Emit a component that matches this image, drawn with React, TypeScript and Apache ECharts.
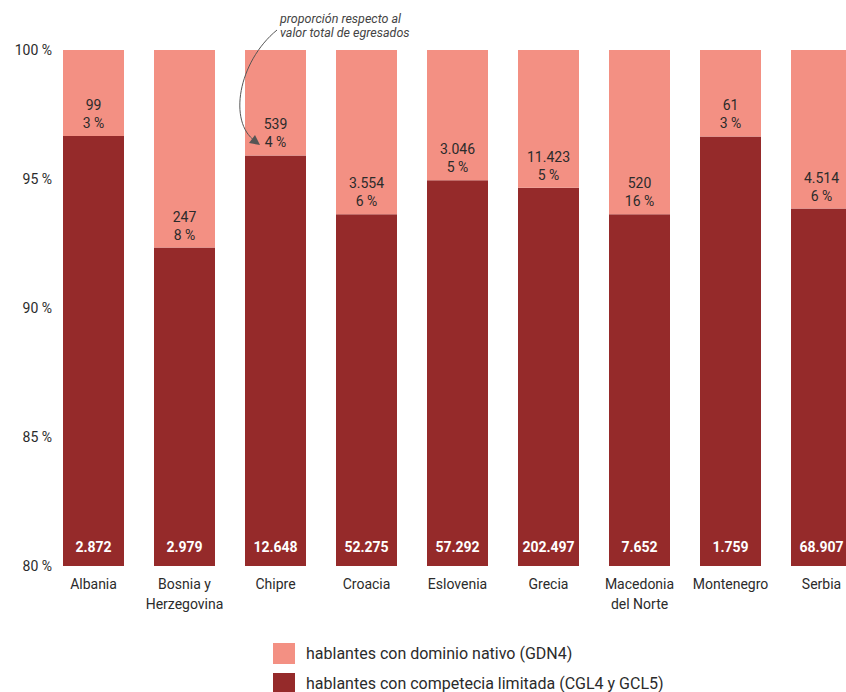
import React, { useEffect, useRef } from "react";
import * as echarts from "echarts";

const categories = [
  "Albania",
  "Bosnia y\nHerzegovina",
  "Chipre",
  "Croacia",
  "Eslovenia",
  "Grecia",
  "Macedonia\ndel Norte",
  "Montenegro",
  "Serbia",
];
// hablantes con competecia limitada (CGL4 y GCL5)
const limitedCounts = [2872, 2979, 12648, 52275, 57292, 202497, 7652, 1759, 68907];
// hablantes con dominio nativo (GDN4)
const nativeCounts = [99, 247, 539, 3554, 3046, 11423, 520, 61, 4514];
// printed share labels of native speakers
const nativeShareLabels = ["3 %", "8 %", "4 %", "6 %", "5 %", "5 %", "16 %", "3 %", "6 %"];

const AXIS_MIN = 80;
const AXIS_MAX = 100;

const DARK = "#952a2a";
const PINK = "#f39083";
const FONT = "Roboto, 'Noto Sans', sans-serif";

const fmt = (n: number) => String(n).replace(/\B(?=(\d{3})+(?!\d))/g, ".");

export default function App() {
  const ref = useRef<HTMLDivElement>(null);
  useEffect(() => {
    if (!ref.current) return;
    const chart = echarts.init(ref.current, undefined, { renderer: "svg" });
    const limitedShare = limitedCounts.map((v, i) => (v / (v + nativeCounts[i])) * 100);
    const baseData = categories.map(() => AXIS_MIN);
    const darkData = limitedShare.map((s) => s - AXIS_MIN);
    const pinkData = limitedShare.map((s) => AXIS_MAX - s);

    chart.setOption({
      animation: false,
      textStyle: { fontFamily: FONT },
      grid: { left: 48, top: 50, bottom: 126, width: 819, containLabel: false },
      xAxis: {
        type: "category",
        data: categories,
        axisLine: { show: false },
        axisTick: { show: false },
        axisLabel: {
          color: "#2b2b2b",
          fontSize: 14,
          fontFamily: FONT,
          margin: 8,
          lineHeight: 20,
          interval: 0,
        },
      },
      yAxis: {
        type: "value",
        min: AXIS_MIN,
        max: AXIS_MAX,
        interval: 5,
        splitLine: { show: false },
        axisLine: { show: false },
        axisTick: { show: false },
        axisLabel: {
          color: "#2b2b2b",
          fontSize: 14,
          fontFamily: FONT,
          margin: -4,
          formatter: "{value} %",
        },
      },
      legend: {
        orient: "vertical",
        left: 273,
        top: 643,
        height: 80,
        itemWidth: 22,
        itemHeight: 21,
        itemGap: 9,
        padding: 0,
        data: ["hablantes con dominio nativo (GDN4)", "hablantes con competecia limitada (CGL4 y GCL5)"],
        textStyle: { color: "#2b2b2b", fontSize: 16, fontFamily: FONT, padding: [0, 0, 0, 6] },
        icon: "rect",
      },
      series: [
        {
          name: "base",
          type: "bar",
          stack: "s",
          barWidth: 61,
          data: baseData,
          itemStyle: { color: "transparent" },
          silent: true,
        },
        {
          name: "hablantes con competecia limitada (CGL4 y GCL5)",
          type: "bar",
          stack: "s",
          barWidth: 61,
          data: darkData,
          itemStyle: { color: DARK },
          label: {
            show: true,
            position: "insideBottom",
            distance: 12,
            color: "#fff",
            fontWeight: "bold",
            fontSize: 14,
            fontFamily: FONT,
            formatter: (p: any) => fmt(limitedCounts[p.dataIndex]),
          },
        },
        {
          name: "hablantes con dominio nativo (GDN4)",
          type: "bar",
          stack: "s",
          barWidth: 61,
          data: pinkData,
          itemStyle: { color: PINK },
          label: {
            show: true,
            position: "insideBottom",
            distance: 4,
            color: "#2b2b2b",
            fontSize: 14,
            lineHeight: 18,
            fontFamily: FONT,
            formatter: (p: any) => fmt(nativeCounts[p.dataIndex]) + "\n" + nativeShareLabels[p.dataIndex],
          },
        },
      ],
      graphic: [
        {
          type: "text",
          left: 280,
          top: 11,
          z: 100,
          style: {
            text: "proporción respecto al\nvalor total de egresados",
            fill: "#444",
            font: "italic 12.5px Roboto, sans-serif",
            lineHeight: 14,
          },
        },
        {
          type: "bezierCurve",
          z: 100,
          shape: { x1: 277, y1: 30, cpx1: 238, cpy1: 62, cpx2: 228, cpy2: 122, x2: 255, y2: 141 },
          style: { stroke: "#555", lineWidth: 1, fill: null },
        },
        {
          type: "polygon",
          z: 100,
          shape: { points: [[260, 145], [249, 143], [255, 135]] },
          style: { fill: "#555" },
        },
      ],
    });
    return () => chart.dispose();
  }, []);
  return (
    <div
      style={{ position: "absolute", left: 0, top: 0, width: 846, height: 692, overflow: "hidden" }}
    >
      <div ref={ref} style={{ width: 870, height: 692 }} />
    </div>
  );
}
